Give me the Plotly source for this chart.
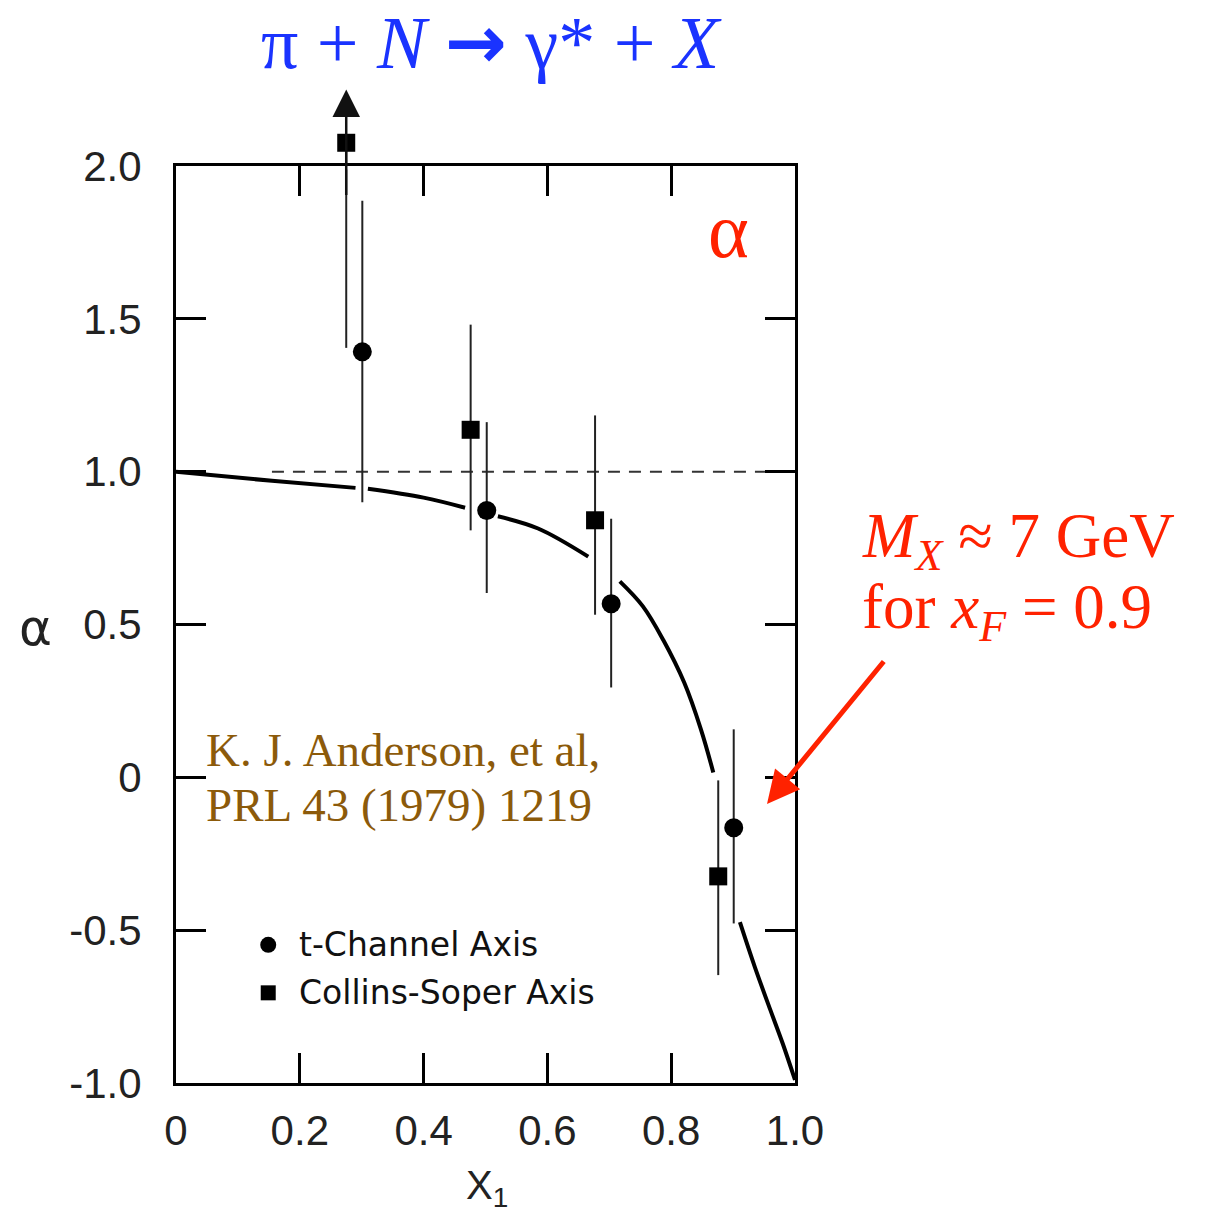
import plotly.graph_objects as go

# ---- data ----
circ_x = [0.301, 0.502, 0.703, 0.901]
circ_y = [1.392, 0.873, 0.568, -0.165]
circ_up = [0.494, 0.289, 0.278, 0.322]
circ_dn = [0.492, 0.270, 0.274, 0.313]

sq_x = [0.275, 0.476, 0.677, 0.876]
sq_y = [2.076, 1.137, 0.841, -0.324]
sq_up = [0.0, 0.344, 0.343, 0.314]
sq_dn = [0.671, 0.329, 0.309, 0.323]
sq_limit_top = 2.25   # first square is a lower limit (arrow up)

curve_x = [0.0, 0.155, 0.29, None, 0.31, 0.40, 0.467, None, 0.52, 0.585, 0.666, None,
           0.717, 0.754, 0.787, 0.821, 0.848, 0.868, None, 0.911, 0.935, 0.960, 0.980, 1.0]
curve_y = [1.0, 0.97, 0.947, None, 0.944, 0.915, 0.882, None, 0.854, 0.814, 0.722, None,
           0.641, 0.56, 0.45, 0.31, 0.157, 0.016, None, -0.474, -0.62, -0.76, -0.87, -0.99]

dash_x = [0.155, 1.0]
dash_y = [1.0, 1.0]

x_ticks = [0, 0.2, 0.4, 0.6, 0.8, 1.0]
x_ticktext = ["0", "0.2", "0.4", "0.6", "0.8", "1.0"]
y_ticks = [2.0, 1.5, 1.0, 0.5, 0, -0.5, -1.0]
y_ticktext = ["2.0", "1.5", "1.0", "0.5", "0", "-0.5", "-1.0"]
y_range = [-1.0, 2.0]

legend_names = ["t-Channel Axis", "Collins-Soper Axis"]
legend_y = [-0.548, -0.705]
legend_mx = 0.149
legend_tx = 0.196

# ---- layout geometry (pixels) ----
W, H = 1208, 1216
M_L, M_R, M_T, M_B = 168, 421, 58, 141
FRAME_H = 917                      # height of the framed axes box
PLOT_H = H - M_T - M_B             # full plotting area (incl. room above frame)
dom_top = FRAME_H / PLOT_H
y2_top = y_range[0] + (y_range[1] - y_range[0]) * PLOT_H / FRAME_H

def xd(px):
    return (px - 176) / 619

def yd(py):
    return (1083 - py) / 917

fig = go.Figure()

fig.add_trace(go.Scatter(x=dash_x, y=dash_y, mode="lines",
                         line=dict(color="#333", width=2, dash="12px,9px"),
                         showlegend=False, hoverinfo="skip"))
fig.add_trace(go.Scatter(x=curve_x, y=curve_y, mode="lines", connectgaps=False,
                         line=dict(color="black", width=4, shape="spline"),
                         showlegend=False, hoverinfo="skip"))
fig.add_trace(go.Scatter(x=circ_x, y=circ_y, mode="markers",
                         marker=dict(symbol="circle", size=19, color="black"),
                         error_y=dict(type="data", symmetric=False, array=circ_up, arrayminus=circ_dn,
                                      color="#222", thickness=2, width=0),
                         showlegend=False))
# squares on a taller invisible axis with the same scale, so the point above 2.0 shows
fig.add_trace(go.Scatter(x=sq_x, y=sq_y, mode="markers", yaxis="y2",
                         marker=dict(symbol="square", size=18, color="black"),
                         error_y=dict(type="data", symmetric=False, array=sq_up, arrayminus=sq_dn,
                                      color="#222", thickness=2, width=0),
                         showlegend=False))
# legend markers
fig.add_trace(go.Scatter(x=[legend_mx], y=[legend_y[0]], mode="markers",
                         marker=dict(symbol="circle", size=16, color="black"), showlegend=False))
fig.add_trace(go.Scatter(x=[legend_mx], y=[legend_y[1]], mode="markers",
                         marker=dict(symbol="square", size=15, color="black"), showlegend=False))

annotations = []
for name, ly in zip(legend_names, legend_y):
    annotations.append(dict(x=legend_tx, y=ly, xref="x", yref="y", text=name, showarrow=False,
                            xanchor="left", yanchor="middle",
                            font=dict(family="DejaVu Sans", size=33, color="#111")))

# upward arrow on first square (lower limit)
annotations.append(dict(x=sq_x[0], y=sq_limit_top, xref="x", yref="y2",
                        ax=sq_x[0], ay=1.9, axref="x", ayref="y2", text="", showarrow=True,
                        arrowhead=2, arrowsize=2.2, arrowwidth=2.5, arrowcolor="#111"))

# title reaction
annotations.append(dict(xref="x domain", yref="y domain", x=xd(491), y=yd(42),
                        text="π + <i>N</i> <span style='font-family:DejaVu Sans;font-weight:bold'>→</span> γ* + <i>X</i>",
                        showarrow=False, xanchor="center", yanchor="middle",
                        font=dict(family="Liberation Serif", size=74, color="#1a33ff")))
# red alpha
annotations.append(dict(xref="x domain", yref="y", x=xd(728), y=1.79, text="α", showarrow=False,
                        xanchor="center", yanchor="middle",
                        font=dict(family="Liberation Serif", size=78, color="#ff2200")))
# y-axis label
annotations.append(dict(xref="x domain", yref="y", x=xd(35), y=0.49, text="α", showarrow=False,
                        xanchor="center", yanchor="middle",
                        font=dict(family="DejaVu Sans", size=50, color="#222")))
# x-axis label
annotations.append(dict(xref="x domain", yref="y domain", x=xd(487), y=yd(1188),
                        text="X<sub>1</sub>",
                        showarrow=False, xanchor="center", yanchor="middle",
                        font=dict(family="Liberation Sans", size=40, color="#222")))
# reference
ref_lines = ["K. J. Anderson, et al,", "PRL 43 (1979) 1219"]
ref_py = [750, 805]
for t, py in zip(ref_lines, ref_py):
    annotations.append(dict(xref="x domain", yref="y domain", x=xd(204), y=yd(py),
                            text=t, showarrow=False, xanchor="left", yanchor="middle",
                            font=dict(family="Liberation Serif", size=47, color="#8c5a0a")))
# M_X note
note_lines = ["<i>M<sub>X</sub></i> ≈ 7 GeV", "for <i>x<sub>F</sub></i> = 0.9"]
note_py = [540, 611]
for t, py in zip(note_lines, note_py):
    annotations.append(dict(xref="x domain", yref="y domain", x=xd(860), y=yd(py),
                            text=t, showarrow=False, xanchor="left", yanchor="middle",
                            font=dict(family="Liberation Serif", size=63, color="#ff2200")))
# red arrow
annotations.append(dict(xref="x domain", yref="y domain", axref="x domain", ayref="y domain",
                        x=xd(767), y=yd(804), ax=xd(885), ay=yd(660), text="", showarrow=True,
                        arrowhead=2, arrowsize=1.3, arrowwidth=5, arrowcolor="#ff2200"))

axis_common = dict(showline=True, linecolor="black", linewidth=3, mirror="ticks",
                   ticks="inside", ticklen=30, tickwidth=2.5, tickcolor="black",
                   showgrid=False, zeroline=False)

fig.update_layout(
    width=W, height=H,
    margin=dict(l=M_L, r=M_R, t=M_T, b=M_B),
    paper_bgcolor="white", plot_bgcolor="rgba(0,0,0,0)",
    xaxis=dict(range=[0, 1.0], tickvals=x_ticks, ticktext=x_ticktext, anchor="y",
               tickfont=dict(family="Liberation Sans", size=42, color="#222"),
               ticklabelstandoff=9, **axis_common),
    yaxis=dict(range=y_range, domain=[0, dom_top], tickvals=y_ticks, ticktext=y_ticktext,
               tickfont=dict(family="Liberation Sans", size=42, color="#222"),
               ticklabelstandoff=23, **axis_common),
    yaxis2=dict(range=[y_range[0], y2_top], domain=[0, 1], anchor="x", visible=False,
                showgrid=False, zeroline=False),
    annotations=annotations,
    shapes=[dict(type="line", xref="x", yref="y", x0=0.254, x1=0.297, y0=2.0, y1=2.0,
                 line=dict(color="white", width=7), layer="above")],
)

fig.write_html("out.html")
